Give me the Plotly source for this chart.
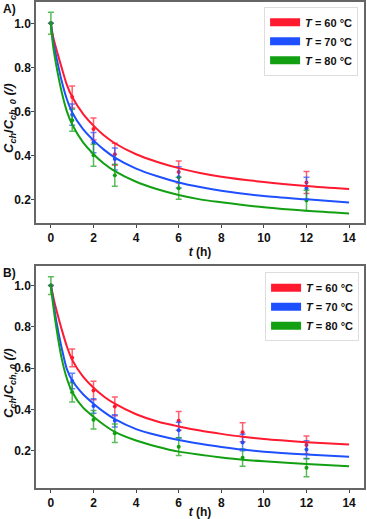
import plotly.graph_objects as go

# ---- data ----
temps = ["60", "70", "80"]
colors = ["#ff1a30", "#1f50ff", "#12a012"]
err_colors = ["rgba(255,26,48,0.7)", "rgba(31,80,255,0.7)", "rgba(18,160,18,0.7)"]

# panel A: measured points
tA = [0, 1, 2, 3, 6, 12]
yA_60 = [1.0, 0.665, 0.52, 0.405, 0.324, 0.277]
eA_60 = [0.0, 0.05, 0.05, 0.05, 0.05, 0.05]
yA_70 = [1.0, 0.585, 0.458, 0.383, 0.30, 0.25]
eA_70 = [0.0, 0.048, 0.046, 0.05, 0.048, 0.05]
yA_80 = [1.0, 0.56, 0.40, 0.31, 0.25, 0.195]
eA_80 = [0.05, 0.05, 0.05, 0.05, 0.05, 0.047]

# panel A: fitted curves
tA_fit = [0, 0.1, 0.25, 0.5, 0.75, 1, 1.5, 2, 2.5, 3, 4, 5, 6, 7, 8, 10, 12, 14]
fA_60 = [1.0, 0.94, 0.885, 0.80, 0.72, 0.665, 0.59, 0.535, 0.49, 0.455, 0.405, 0.37,
         0.342, 0.32, 0.303, 0.279, 0.261, 0.247]
fA_70 = [1.0, 0.92, 0.85, 0.74, 0.655, 0.595, 0.52, 0.468, 0.425, 0.39, 0.34, 0.305,
         0.277, 0.256, 0.239, 0.215, 0.20, 0.186]
fA_80 = [1.0, 0.90, 0.81, 0.69, 0.60, 0.54, 0.46, 0.405, 0.362, 0.328, 0.28, 0.246,
         0.22, 0.20, 0.187, 0.164, 0.148, 0.136]

# panel B: measured points
tB = [0, 1, 2, 3, 6, 9, 12]
yB_60 = [1.0, 0.65, 0.492, 0.415, 0.345, 0.29, 0.228]
eB_60 = [0.0, 0.043, 0.045, 0.045, 0.045, 0.046, 0.044]
yB_70 = [1.0, 0.538, 0.417, 0.345, 0.30, 0.24, 0.206]
eB_70 = [0.0, 0.038, 0.035, 0.03, 0.038, 0.04, 0.043]
yB_80 = [1.0, 0.483, 0.35, 0.285, 0.22, 0.167, 0.118]
eB_80 = [0.043, 0.047, 0.045, 0.045, 0.043, 0.042, 0.044]

# panel B: fitted curves
tB_fit = [0, 0.1, 0.25, 0.5, 0.75, 1, 1.5, 2, 2.5, 3, 4, 5, 6, 7, 8, 9, 10, 12, 14]
fB_60 = [1.0, 0.95, 0.885, 0.79, 0.705, 0.64, 0.56, 0.505, 0.462, 0.428, 0.377, 0.342,
         0.318, 0.298, 0.282, 0.268, 0.257, 0.242, 0.23]
fB_70 = [1.0, 0.93, 0.83, 0.70, 0.595, 0.54, 0.475, 0.428, 0.387, 0.353, 0.305, 0.275,
         0.252, 0.234, 0.219, 0.206, 0.196, 0.182, 0.171]
fB_80 = [1.0, 0.91, 0.80, 0.65, 0.55, 0.485, 0.41, 0.365, 0.325, 0.292, 0.25, 0.22,
         0.196, 0.181, 0.168, 0.157, 0.149, 0.136, 0.125]

panels = [
    dict(t=tA, y=[yA_60, yA_70, yA_80], e=[eA_60, eA_70, eA_80],
         tf=tA_fit, f=[fA_60, fA_70, fA_80], xa="x", ya="y", leg="legend"),
    dict(t=tB, y=[yB_60, yB_70, yB_80], e=[eB_60, eB_70, eB_80],
         tf=tB_fit, f=[fB_60, fB_70, fB_80], xa="x2", ya="y2", leg="legend2"),
]

fig = go.Figure()

for p in panels:
    for i in range(3):
        fig.add_trace(go.Scatter(
            x=p["t"], y=p["y"][i], mode="markers",
            marker=dict(color=colors[i], size=4),
            error_y=dict(type="data", array=p["e"][i], color=err_colors[i],
                         thickness=1.5, width=3),
            xaxis=p["xa"], yaxis=p["ya"], showlegend=False))
    for i in range(3):
        fig.add_trace(go.Scatter(
            x=p["tf"], y=p["f"][i], mode="lines", line_shape="spline",
            line=dict(color=colors[i], width=2, smoothing=0.8),
            xaxis=p["xa"], yaxis=p["ya"], showlegend=False, hoverinfo="skip"))
    # legend patches
    for i in range(3):
        fig.add_trace(go.Scatter(
            x=[None], y=[None], mode="lines", line=dict(color=colors[i], width=8),
            name="<b><i>T</i> = " + temps[i] + " °C</b>", xaxis=p["xa"], yaxis=p["ya"],
            legend=p["leg"]))

axis_style = dict(showline=True, linecolor="#666", linewidth=1.5, mirror=True,
                  ticks="outside", ticklen=3, tickcolor="#444", showgrid=False,
                  zeroline=False, automargin=False,
                  tickfont=dict(size=12, color="#111", weight="bold"))

ytitle = "<b><i>C<sub>ch</sub></i>/<i>C<sub>ch, 0</sub></i> <i>(/)</i></b>"
xtitle = "<b><i>t</i> (h)</b>"
xticks = [0, 2, 4, 6, 8, 10, 12, 14]
yticks = [0.2, 0.4, 0.6, 0.8, 1.0]

fig.update_layout(
    width=367, height=519,
    margin=dict(l=36, r=3, t=2, b=31),
    plot_bgcolor="white", paper_bgcolor="white",
    font=dict(family="Liberation Sans, Arial", color="#111"),
    xaxis=dict(domain=[0, 1], range=[-0.7, 14.7], tickvals=xticks, anchor="y",
               title=dict(text=xtitle, font=dict(size=12), standoff=3), **axis_style),
    yaxis=dict(domain=[0.545, 1], range=[0.092, 1.097], tickvals=yticks,
               tickformat=".1f", anchor="x", ticklabelstandoff=-2, **axis_style),
    xaxis2=dict(domain=[0, 1], range=[-0.7, 14.7], tickvals=xticks, anchor="y2",
                title=dict(text=xtitle, font=dict(size=12), standoff=3), **axis_style),
    yaxis2=dict(domain=[0, 0.457], range=[0.02, 1.095], tickvals=yticks,
                tickformat=".1f", anchor="x2", ticklabelstandoff=-2, **axis_style),
    legend=dict(x=0.982, y=0.99, xanchor="right", yanchor="top", bgcolor="white",
                bordercolor="#ddd", borderwidth=1, font=dict(size=11), itemwidth=30,
                tracegroupgap=0),
    legend2=dict(x=0.985, y=0.444, xanchor="right", yanchor="top", bgcolor="white",
                 bordercolor="#ddd", borderwidth=1, font=dict(size=11), itemwidth=30,
                 tracegroupgap=0),
)

# panel labels and y titles at pixel positions converted to paper fractions
W, H = 367 - 36 - 3, 519 - 2 - 31
for lab, px, py in [("A)", 9, 9), ("B)", 9, 273)]:
    fig.add_annotation(text="<b>" + lab + "</b>", x=(px - 36) / W, y=1 - (py - 2) / H,
                       xref="paper", yref="paper", showarrow=False, xanchor="center",
                       yanchor="middle", font=dict(size=12, color="#111"))
for py in [118, 383]:
    fig.add_annotation(text=ytitle, x=(9 - 36) / W, y=1 - (py - 2) / H,
                       xref="paper", yref="paper", showarrow=False, textangle=-90,
                       xanchor="center", yanchor="middle",
                       font=dict(size=13, color="#111"))

# remove the default page margin so the figure sits at the window's corner
fig.write_html("out.html", config={"displayModeBar": False},
               post_script="document.body.style.margin='0px';")
